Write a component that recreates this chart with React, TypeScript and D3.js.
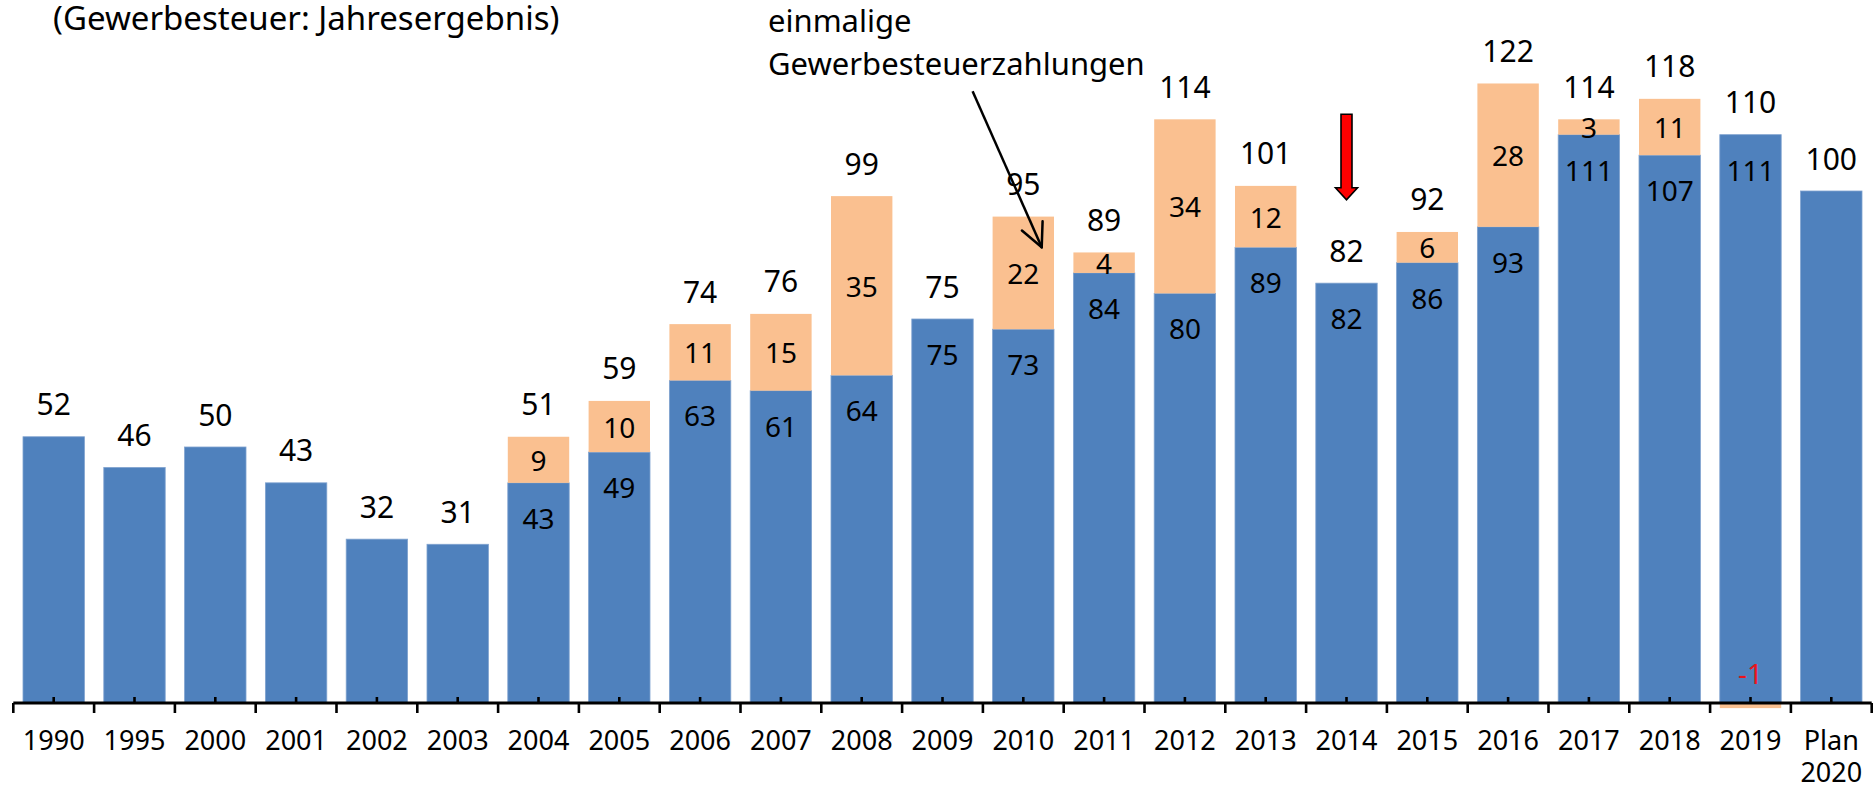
import * as d3 from "d3";

const categories = ["1990", "1995", "2000", "2001", "2002", "2003", "2004", "2005", "2006", "2007", "2008", "2009", "2010", "2011", "2012", "2013", "2014", "2015", "2016", "2017", "2018", "2019", "Plan 2020"];
// laufende Gewerbesteuer
const regular = [52, 46, 50, 43, 32, 31, 43, 49, 63, 61, 64, 75, 73, 84, 80, 89, 82, 86, 93, 111, 107, 111, 100];
// einmalige Zahlungen
const oneOff = [0, 0, 0, 0, 0, 0, 9, 10, 11, 15, 35, 0, 22, 4, 34, 12, 0, 6, 28, 3, 11, -1, 0];
const totals = [52, 46, 50, 43, 32, 31, 51, 59, 74, 76, 99, 75, 95, 89, 114, 101, 82, 92, 122, 114, 118, 110, 100];
// which years carry an inner label on the blue part
const innerFrom = "2004";
const innerTo = "2019";

const W = 1873;
const H = 788;
const font = "'Noto Sans', 'Open Sans', sans-serif";
const BLUE = "#4F81BD";
const ORANGE = "#FAC090";

export default function App() {
  const x = d3.scaleBand().domain(categories).range([13.3, 1871.7]).paddingInner(0.24).paddingOuter(0.12);
  const y = d3.scaleLinear().domain([0, 130]).range([703, 703 - 130 * 5.12]);
  const step = x.step();
  const bw = x.bandwidth();
  const i0 = categories.indexOf(innerFrom);
  const i1 = categories.indexOf(innerTo);

  // annotation arrow (points to 2010 one-off part)
  const ax1 = x("2010")! - 20;
  const ay1 = y(119.5);
  const ax2 = x("2010")! + bw * 0.8;
  const ay2 = y(89);
  const ang = Math.atan2(ay2 - ay1, ax2 - ax1);
  const hl = 26;
  const ha = 0.45;
  const head = [ang + Math.PI - ha, ang + Math.PI + ha].map((a) => [ax2 + hl * Math.cos(a), ay2 + hl * Math.sin(a)]);

  // red block arrow above 2014
  const rc = x("2014")! + bw / 2;
  const rTop = y(115);
  const rTip = y(98.3);
  const rNeck = rTip - 12;
  const sw = 5.5;
  const hw = 11;
  const redArrow = `M${rc - sw},${rTop} L${rc + sw},${rTop} L${rc + sw},${rNeck} L${rc + hw},${rNeck} L${rc},${rTip} L${rc - hw},${rNeck} L${rc - sw},${rNeck} Z`;

  return (
    <svg width={W} height={H} style={{ position: "absolute", left: 0, top: 0, background: "#fff" }} fontFamily={font}>
      <text x={53} y={30} fontSize={33}>(Gewerbesteuer: Jahresergebnis)</text>

      {categories.map((c, i) => {
        const x0 = x(c)!;
        const b = regular[i];
        const o = oneOff[i];
        const top = Math.max(b, b + o);
        return (
          <g key={c}>
            <rect x={x0} y={y(b)} width={bw} height={y(0) - y(b)} fill={BLUE} stroke="#7fa2cf" strokeWidth={0.8} />
            {o > 0 && <rect x={x0} y={y(b + o)} width={bw} height={y(b) - y(b + o)} fill={ORANGE} />}
            {o < 0 && <rect x={x0} y={y(0)} width={bw} height={y(o) - y(0)} fill={ORANGE} />}
            <text x={x0 + bw / 2} y={y(top) - 33} fontSize={30} textAnchor="middle" dominantBaseline="central">{totals[i]}</text>
            {i >= i0 && i <= i1 && (
              <text x={x0 + bw / 2} y={y(b) + 35} fontSize={28} textAnchor="middle" dominantBaseline="central">{b}</text>
            )}
            {o > 0 && (
              <text x={x0 + bw / 2} y={(y(b) + y(b + o)) / 2} fontSize={28} textAnchor="middle" dominantBaseline="central">{o}</text>
            )}
            {o < 0 && (
              <text x={x0 + bw / 2} y={y(0) - 30} fontSize={28} fill="#E8141C" textAnchor="middle" dominantBaseline="central">{o}</text>
            )}
          </g>
        );
      })}

      {/* axis */}
      <line x1={x.range()[0]} x2={x.range()[1]} y1={y(0)} y2={y(0)} stroke="#000" strokeWidth={2.8} />
      {d3.range(categories.length + 1).map((k) => {
        const xx = x.range()[0] + k * step;
        return <line key={"b" + k} x1={xx} x2={xx} y1={y(0)} y2={y(0) + 10} stroke="#000" strokeWidth={2.6} />;
      })}
      {categories.map((c) => {
        const xc = x(c)! + bw / 2;
        const parts = c.split(" ");
        return (
          <g key={"t" + c}>
            <line x1={xc} x2={xc} y1={y(0)} y2={y(0) - 6} stroke="#000" strokeWidth={2.6} />
            {parts.map((p, j) => (
              <text key={j} x={xc} y={739 + j * 32} fontSize={27} textAnchor="middle" dominantBaseline="central">{p}</text>
            ))}
          </g>
        );
      })}

      {/* annotation */}
      <text x={768} y={32} fontSize={31}>einmalige</text>
      <text x={768} y={75} fontSize={31}>Gewerbesteuerzahlungen</text>
      <line x1={ax1} y1={ay1} x2={ax2} y2={ay2} stroke="#000" strokeWidth={2.5} />
      {head.map(([hx, hy], k) => (
        <line key={"h" + k} x1={ax2} y1={ay2} x2={hx} y2={hy} stroke="#000" strokeWidth={2.5} strokeLinecap="round" />
      ))}

      <path d={redArrow} fill="#FF0000" stroke="#000" strokeWidth={1.6} />
    </svg>
  );
}
